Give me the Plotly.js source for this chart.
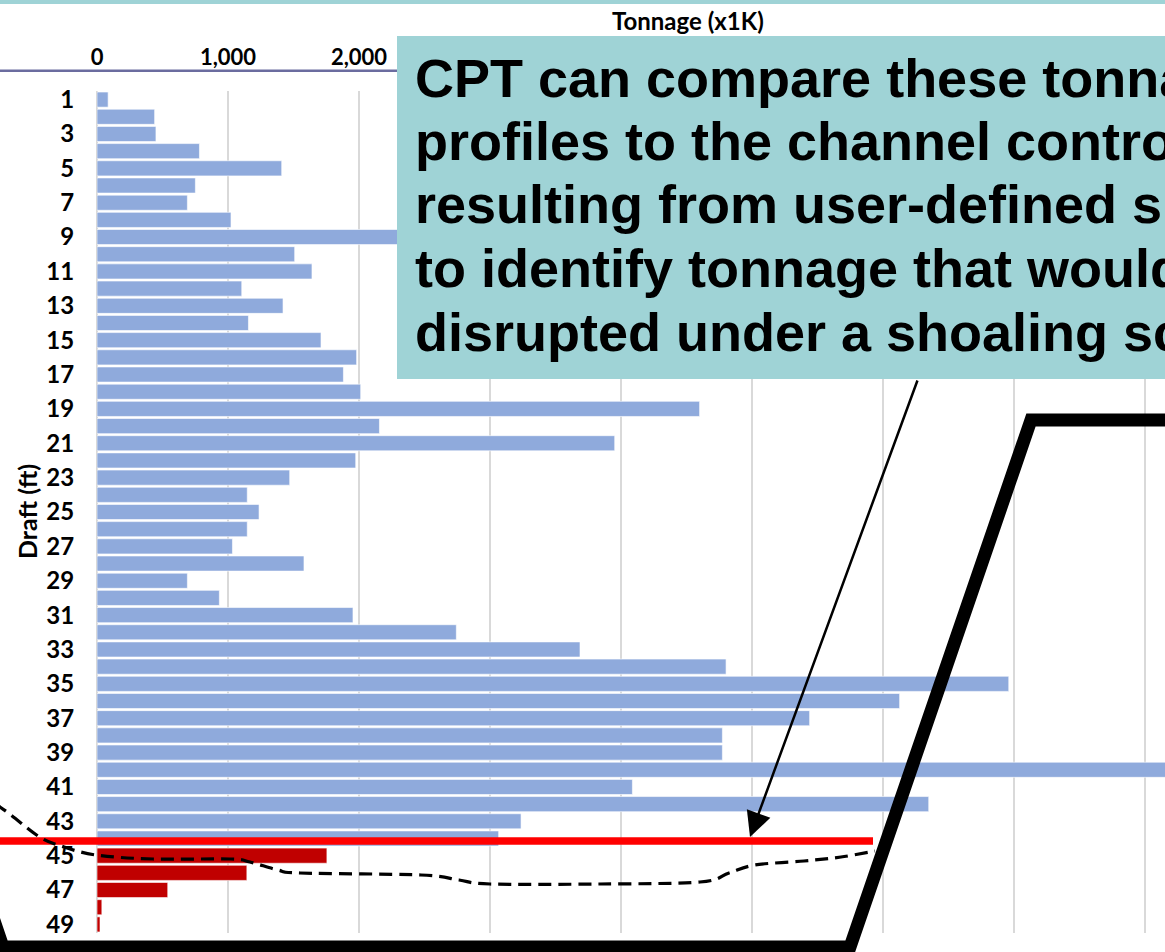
<!DOCTYPE html>
<html>
<head>
<meta charset="utf-8">
<script src="https://cdn.plot.ly/plotly-3.0.1.min.js"></script>
<style>html,body{margin:0;padding:0;background:#fff;overflow:hidden}#chart{width:1165px;height:952px}</style>
</head>
<body>
<div id="chart"></div>
<script>
// ---- data ----
const drafts = [1,2,3,4,5,6,7,8,9,10,11,12,13,14,15,16,17,18,19,20,21,22,23,24,25,
  26,27,28,29,30,31,32,33,34,35,36,37,38,39,40,41,42,43,44,45,46,47,48,49];
const tonnage = [85,440,450,782,1410,751,690,1023,2400,1509,1641,1105,1420,1156,1710,
  1982,1881,2013,4600,2156,3952,1975,1471,1147,1237,1147,1034,1580,690,934,1954,2743,
  3687,4802,6960,6127,5440,4774,4774,8700,4087,6349,3237,3066,1755,1144,540,37,23];
const disruptedFrom = 45; // drafts at or deeper than this are disrupted (red)
const yTickVals = [1,3,5,7,9,11,13,15,17,19,21,23,25,27,29,31,33,35,37,39,41,43,45,47,49];
const xTickVals = [0,1000,2000,3000,4000,5000,6000,7000,8000];
// labels for 3,000 and up sit under the callout box in the reference
const xTickText = ['0','1,000','2,000','','','','','',''];
const xTitle = "Tonnage (x1K)";
const yTitle = "Draft (ft)";
const calloutLines = [
  "CPT can compare these tonnage",
  "profiles to the channel controlling depths",
  "resulting from user-defined shoaling scenarios",
  "to identify tonnage that would be",
  "disrupted under a shoaling scenario."
];

// ---- layout geometry ----
const W = 1165, H = 952, ML = 97, MT = 91, MB = 19, MR = 0;
const PW = W - ML - MR, PH = H - MT - MB;
const px = x => (x - ML) / PW;          // page pixel -> paper x
const py = y => (MT + PH - y) / PH;     // page pixel -> paper y

const blueD = [], blueT = [], redD = [], redT = [];
drafts.forEach((d, i) => {
  if (d >= disruptedFrom) { redD.push(d); redT.push(tonnage[i]); }
  else { blueD.push(d); blueT.push(tonnage[i]); }
});

const traces = [
  {type:'bar', orientation:'h', y: blueD, x: blueT, width: 0.88,
   marker:{color:'#8FAADC', line:{color:'#ffffff', width:0.6}}, hoverinfo:'skip'},
  {type:'bar', orientation:'h', y: redD, x: redT, width: 0.88,
   marker:{color:'#C00000', line:{color:'#ffffff', width:0.6}}, hoverinfo:'skip'}
];

// smooth path through pixel points (Catmull-Rom -> cubic Bezier), paper coords
function smoothPath(pts) {
  const P = pts.map(p => [px(p[0]), py(p[1])]);
  let d = 'M' + P[0][0] + ',' + P[0][1];
  for (let i = 0; i < P.length - 1; i++) {
    const p0 = P[i - 1] || P[i], p1 = P[i], p2 = P[i + 1], p3 = P[i + 2] || p2;
    const c1 = [p1[0] + (p2[0] - p0[0]) / 6, p1[1] + (p2[1] - p0[1]) / 6];
    const c2 = [p2[0] - (p3[0] - p1[0]) / 6, p2[1] - (p3[1] - p1[1]) / 6];
    d += ' C' + c1[0] + ',' + c1[1] + ' ' + c2[0] + ',' + c2[1] + ' ' + p2[0] + ',' + p2[1];
  }
  return d;
}
function polyPath(pts) {
  return pts.map((p, i) => (i ? 'L' : 'M') + px(p[0]) + ',' + py(p[1])).join(' ');
}

// decorations (slide overlay), page pixels
const shoalProfile = [[-40,785],[0,807],[38,836],[61,846],[96,855],[153,859],[230,859],
  [250,862],[278,870],[300,873],[421,875],[459,880],[490,884],[600,884],[700,882],
  [729,873],[755,865],[804,861],[841,857],[875,851]];
const channelSection = [[-177,420],[3,947],[850,947],[1031,420],[1300,420]];

const shapes = [
  {type:'rect', xref:'paper', yref:'paper', x0:px(-5), x1:px(1175), y0:py(4), y1:py(-2),
   fillcolor:'#9FD3D6', line:{width:0}, layer:'above'},
  {type:'line', xref:'paper', yref:'paper', x0:px(0), x1:px(400), y0:py(70.7), y1:py(70.7),
   line:{color:'#6B6C9F', width:2.5}, layer:'above'},
  {type:'rect', xref:'paper', yref:'paper', x0:px(397), x1:px(1180), y0:py(379), y1:py(36),
   fillcolor:'#9FD3D6', line:{width:0}, layer:'above'},
  {type:'line', xref:'paper', yref:'paper', x0:px(0), x1:px(873), y0:py(841), y1:py(841),
   line:{color:'#FF0000', width:7.5}, layer:'above'},
  {type:'path', xref:'paper', yref:'paper', path: smoothPath(shoalProfile),
   line:{color:'#000000', width:3.2, dash:'13px,7px'}, layer:'above'},
  {type:'path', xref:'paper', yref:'paper', path: polyPath(channelSection),
   line:{color:'#000000', width:13}, layer:'above'}
];

const annotations = [
  {xref:'paper', yref:'paper', x:px(688), y:py(20), text:xTitle, showarrow:false,
   xanchor:'center', yanchor:'middle',
   font:{family:'Lato, Liberation Sans, sans-serif', size:24, weight:'bold', color:'#000'}},
  {xref:'paper', yref:'paper', x:px(27), y:py(512), text:yTitle, showarrow:false, textangle:-90,
   xanchor:'center', yanchor:'middle',
   font:{family:'Lato, Liberation Sans, sans-serif', size:25, weight:'bold', color:'#000'}},
  {xref:'paper', yref:'paper', x:px(750), y:py(837), ax:168, ay:-458, text:'',
   showarrow:true, arrowhead:2, arrowsize:2, arrowwidth:2.5, arrowcolor:'#000', standoff:0}
];
const baselines = [97, 160, 223, 287, 351];
calloutLines.forEach((t, i) => {
  annotations.push({xref:'paper', yref:'paper', x:px(413), y:py(baselines[i] - 19),
    text:t, showarrow:false, xanchor:'left', yanchor:'middle', align:'left',
    font:{family:'Liberation Sans, Arial, sans-serif', size:54, weight:'bold', color:'#000'}});
});

const layout = {
  width: W, height: H,
  margin:{l:ML, r:MR, t:MT, b:MB, pad:0},
  paper_bgcolor:'#ffffff', plot_bgcolor:'#ffffff',
  showlegend:false, barmode:'overlay',
  xaxis:{side:'top', range:[0, PW / 0.131], tickvals:xTickVals, ticktext:xTickText,
    showgrid:true, gridcolor:'#D9D9D9', gridwidth:1.5, zeroline:true, zerolinecolor:'#D9D9D9',
    zerolinewidth:1.5, showline:false, ticks:'outside', ticklen:16, tickcolor:'rgba(0,0,0,0)',
    tickfont:{family:'Lato, Liberation Sans, sans-serif', size:22, weight:'bold', color:'#000'},
    fixedrange:true},
  yaxis:{range:[49.5, 0.5], tickvals:yTickVals, showgrid:false, zeroline:false, showline:false,
    ticks:'outside', ticklen:17, tickcolor:'rgba(0,0,0,0)',
    tickfont:{family:'Lato, Liberation Sans, sans-serif', size:24, weight:'bold', color:'#000'},
    fixedrange:true},
  shapes: shapes,
  annotations: annotations
};

Plotly.newPlot('chart', traces, layout, {staticPlot:true, displayModeBar:false});
</script>
</body>
</html>
